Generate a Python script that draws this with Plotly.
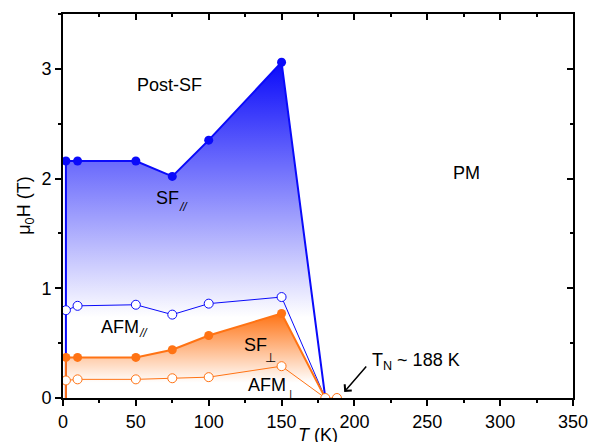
import plotly.graph_objects as go

# ---- data ----
T_pts = [2, 10, 50, 75, 100, 150]
H_sf_par = [2.16, 2.16, 2.16, 2.02, 2.35, 3.06]
H_afm_par = [0.80, 0.84, 0.85, 0.76, 0.86, 0.92]
H_sf_perp = [0.37, 0.37, 0.37, 0.44, 0.57, 0.77]
H_afm_perp = [0.16, 0.17, 0.17, 0.18, 0.19, 0.29]
T_end = 180      # where boundaries meet H = 0
T_N = 188        # Neel temperature
x_ticks = [0, 50, 100, 150, 200, 250, 300, 350]
y_ticks = [0, 1, 2, 3]

BLUE = "rgb(10,10,250)"
ORANGE = "rgb(255,115,20)"
FONT = "Liberation Sans, Arial, sans-serif"

fig = go.Figure()

# gradient fills
fig.add_trace(go.Scatter(
    x=[T_pts[0]] + T_pts + [T_end, T_pts[0]],
    y=[0] + H_sf_par + [0, 0],
    mode="lines", line=dict(width=0), fill="toself",
    fillgradient=dict(type="vertical", start=0, stop=max(H_sf_par),
                      colorscale=[[0, "white"], [0.24, "white"], [1, BLUE]]),
    hoverinfo="skip", showlegend=False))
fig.add_trace(go.Scatter(
    x=[T_pts[0]] + T_pts + [T_end, T_pts[0]],
    y=[0] + H_sf_perp + [0, 0],
    mode="lines", line=dict(width=0), fill="toself",
    fillgradient=dict(type="vertical", start=0, stop=max(H_sf_perp),
                      colorscale=[[0, "white"], [0.18, "white"], [1, ORANGE]]),
    hoverinfo="skip", showlegend=False))

# boundary lines
fig.add_trace(go.Scatter(x=[T_pts[0]] + T_pts + [T_end], y=[0] + H_sf_par + [0],
                         mode="lines", line=dict(color=BLUE, width=2), showlegend=False))
fig.add_trace(go.Scatter(x=T_pts + [T_end], y=H_afm_par + [0],
                         mode="lines", line=dict(color=BLUE, width=1), showlegend=False))
fig.add_trace(go.Scatter(x=[T_pts[0]] + T_pts + [T_end], y=[0] + H_sf_perp + [0],
                         mode="lines", line=dict(color=ORANGE, width=2), showlegend=False))
fig.add_trace(go.Scatter(x=T_pts + [T_end, T_N], y=H_afm_perp + [0, 0],
                         mode="lines", line=dict(color=ORANGE, width=1), showlegend=False))

# markers
fig.add_trace(go.Scatter(x=T_pts, y=H_sf_par, mode="markers",
                         marker=dict(color=BLUE, size=9), showlegend=False))
fig.add_trace(go.Scatter(x=T_pts, y=H_afm_par, mode="markers",
                         marker=dict(color="white", size=9, line=dict(color=BLUE, width=1)),
                         showlegend=False))
fig.add_trace(go.Scatter(x=T_pts, y=H_sf_perp, mode="markers",
                         marker=dict(color=ORANGE, size=9), showlegend=False))
fig.add_trace(go.Scatter(x=T_pts + [T_end, T_N], y=H_afm_perp + [0, 0], mode="markers",
                         marker=dict(color="white", size=9, line=dict(color=ORANGE, width=1)),
                         showlegend=False))

# invisible trace for mirrored axes
fig.add_trace(go.Scatter(x=[0], y=[0], xaxis="x2", yaxis="y2", mode="markers",
                         marker=dict(opacity=0), hoverinfo="skip", showlegend=False))

axis_common = dict(showgrid=False, zeroline=False, tickcolor="black", tickwidth=1.5,
                   automargin=False)
minor_common = dict(tickcolor="black", tickwidth=1.5, ticklen=3)
fig.update_layout(
    width=591, height=442,
    margin=dict(l=63, r=18, t=14, b=44, autoexpand=False),
    paper_bgcolor="white", plot_bgcolor="white",
    font=dict(family=FONT, size=18, color="black"),
    xaxis=dict(range=[0, 350], tickvals=x_ticks, ticks="outside", ticklen=6,
               minor=dict(dtick=25, ticks="outside", **minor_common),
               showline=True, mirror=True, linecolor="black", linewidth=2,
               tickfont=dict(size=18), **axis_common),
    yaxis=dict(range=[0, 3.5], tickvals=y_ticks, ticks="outside", ticklen=6,
               minor=dict(dtick=0.5, ticks="outside", **minor_common),
               showline=True, mirror=True, linecolor="black", linewidth=2,
               tickfont=dict(size=18), **axis_common),
    xaxis2=dict(range=[0, 350], overlaying="x", side="top", tickvals=x_ticks, ticks="inside",
                ticklen=6, showticklabels=False, anchor="y", showline=False,
                minor=dict(dtick=25, ticks="inside", **minor_common), **axis_common),
    yaxis2=dict(range=[0, 3.5], overlaying="y", side="right", tickvals=y_ticks, ticks="inside",
                ticklen=6, showticklabels=False, anchor="x", showline=False,
                minor=dict(dtick=0.5, ticks="inside", **minor_common), **axis_common),
)

def label(x, y, text, size=18, **kw):
    fig.add_annotation(x=x, y=y, text=text, showarrow=False,
                       font=dict(family=FONT, size=size, color="black"), **kw)

label(73, 2.85, "Post-SF")
label(277, 2.05, "PM")
# region labels with hand-placed subscripts
label(71.9, 1.82, "SF")
label(82.8, 1.74, "<i>//</i>", size=12)
label(39.2, 0.645, "AFM")
label(55.3, 0.59, "<i>//</i>", size=12)
label(132, 0.48, "SF")
label(142.4, 0.37, "\u22a5", size=13)
label(140, 0.12, "AFM")
label(156.2, 0.03, "\u22a5", size=13)
label(211, 0.33, "T<sub>N</sub> ~ 188 K", xanchor="left")

# arrow to T_N
fig.add_annotation(x=193, y=0.055, ax=209, ay=0.30, axref="x", ayref="y",
                   text="", showarrow=True, arrowhead=4, arrowsize=1.2,
                   arrowwidth=1.5, arrowcolor="black")

# axis titles
fig.add_annotation(xref="paper", yref="paper", x=0.5, y=-0.096, text="<i>T</i> (K)",
                   showarrow=False, yanchor="middle", font=dict(family=FONT, size=18))
fig.add_annotation(xref="paper", yref="paper", x=-0.075, y=0.5, text="\u03bc<sub>0</sub>H (T)",
                   textangle=-90, showarrow=False, xanchor="center", yanchor="middle",
                   font=dict(family=FONT, size=18))

fig.write_html("out.html", config={"displayModeBar": False},
               post_script="document.body.style.margin='0px';document.body.style.overflow='hidden';")
